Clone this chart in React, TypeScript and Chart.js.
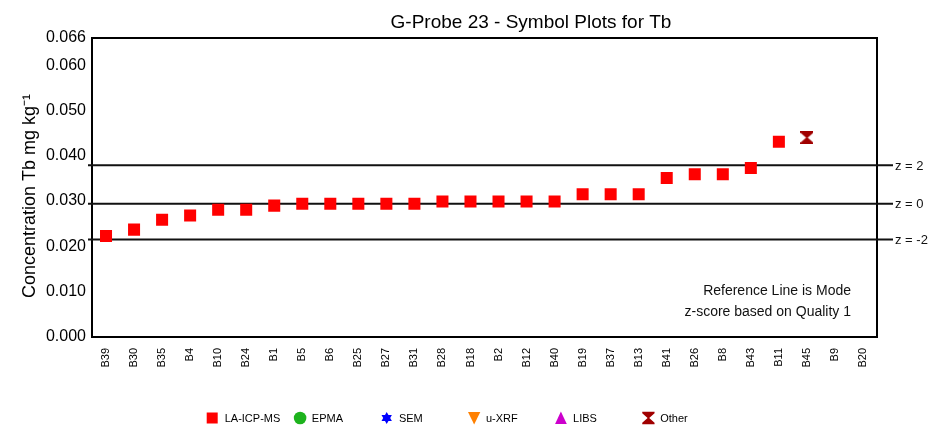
import React, { useEffect, useRef } from 'react';
import { Chart, registerables } from 'chart.js';

Chart.register(...registerables);

const CATEGORIES = ['B39', 'B30', 'B35', 'B4', 'B10', 'B24', 'B1', 'B5', 'B6', 'B25', 'B27', 'B31', 'B28', 'B18', 'B2', 'B12', 'B40', 'B19', 'B37', 'B13', 'B41', 'B26', 'B8', 'B43', 'B11', 'B45', 'B9', 'B20'];
const LA_ICP_MS = [0.0223, 0.0237, 0.0259, 0.0268, 0.0281, 0.0281, 0.029, 0.0294, 0.0294, 0.0294, 0.0294, 0.0294, 0.0299, 0.0299, 0.0299, 0.0299, 0.0299, 0.0315, 0.0315, 0.0315, 0.0351, 0.0359, 0.0359, 0.0373, 0.0431, null, null, null];
const OTHER = [null, null, null, null, null, null, null, null, null, null, null, null, null, null, null, null, null, null, null, null, null, null, null, null, null, 0.044, null, null];
const EMPTY: (number | null)[] = [];
const Y_TICKS = [0, 0.01, 0.02, 0.03, 0.04, 0.05, 0.06, 0.066];
const Z_VALUES = [0.0379, 0.0294, 0.0215];
const Z_LABELS = ['z = 2', 'z = 0', 'z = -2'];
const SERIES_NAMES = ['LA-ICP-MS', 'EPMA', 'SEM', 'u-XRF', 'LIBS', 'Other'];
const TITLE = 'G-Probe 23 - Symbol Plots for Tb';
const Y_TITLE = 'Concentration Tb mg kg\u207B\u00B9';
const NOTES = ['Reference Line is Mode', 'z-score based on Quality 1'];

const FONT = '"Liberation Sans", Arial, Helvetica, sans-serif';
const COLORS = ['#ff0000', '#1db31d', '#0000ff', '#ff8000', '#cc00cc', '#a00000'];

function drawHourglass(ctx: CanvasRenderingContext2D, cx: number, cy: number, s: number, color: string) {
  const h = s / 2;
  ctx.save();
  ctx.fillStyle = color;
  ctx.beginPath();
  ctx.moveTo(cx - h, cy - h);
  ctx.lineTo(cx + h, cy - h);
  ctx.lineTo(cx + h, cy - h + 1.5);
  ctx.lineTo(cx + 0.8, cy);
  ctx.lineTo(cx + h, cy + h - 1.5);
  ctx.lineTo(cx + h, cy + h);
  ctx.lineTo(cx - h, cy + h);
  ctx.lineTo(cx - h, cy + h - 1.5);
  ctx.lineTo(cx - 0.8, cy);
  ctx.lineTo(cx - h, cy - h + 1.5);
  ctx.closePath();
  ctx.fill();
  ctx.restore();
}

function makeHourglassCanvas(): HTMLCanvasElement {
  const c = document.createElement('canvas');
  c.width = 13;
  c.height = 13;
  const ctx = c.getContext('2d')!;
  drawHourglass(ctx, 6.5, 6.5, 13, COLORS[5]);
  return c;
}

function drawMarker(ctx: CanvasRenderingContext2D, i: number, left: number, cy: number) {
  const color = COLORS[i];
  ctx.save();
  ctx.fillStyle = color;
  ctx.beginPath();
  if (i === 0) {
    ctx.rect(left, cy - 5.5, 11, 11);
    ctx.fill();
  } else if (i === 1) {
    ctx.arc(left + 6.3, cy, 6.3, 0, Math.PI * 2);
    ctx.fill();
  } else if (i === 2) {
    const cx = left + 5.8;
    const r = 6;
    ctx.beginPath();
    for (let k = 0; k < 3; k++) {
      const a = -Math.PI / 2 + (k * 2 * Math.PI) / 3;
      const x = cx + r * Math.cos(a);
      const y = cy + r * Math.sin(a);
      if (k === 0) ctx.moveTo(x, y); else ctx.lineTo(x, y);
    }
    ctx.closePath();
    ctx.fill();
    ctx.beginPath();
    for (let k = 0; k < 3; k++) {
      const a = Math.PI / 2 + (k * 2 * Math.PI) / 3;
      const x = cx + r * Math.cos(a);
      const y = cy + r * Math.sin(a);
      if (k === 0) ctx.moveTo(x, y); else ctx.lineTo(x, y);
    }
    ctx.closePath();
    ctx.fill();
  } else if (i === 3) {
    ctx.moveTo(left, cy - 6);
    ctx.lineTo(left + 12.3, cy - 6);
    ctx.lineTo(left + 6.15, cy + 6.5);
    ctx.closePath();
    ctx.fill();
  } else if (i === 4) {
    ctx.moveTo(left + 5.8, cy - 6.5);
    ctx.lineTo(left + 11.7, cy + 6);
    ctx.lineTo(left, cy + 6);
    ctx.closePath();
    ctx.fill();
  } else {
    drawHourglass(ctx, left + 6.2, cy, 12.3, color);
  }
  ctx.restore();
}

const decorPlugin = {
  id: 'decor',
  beforeDatasetsDraw(chart: any) {
    const { ctx, chartArea } = chart;
    const y = chart.scales.y;
    ctx.save();
    // frame
    ctx.strokeStyle = '#000';
    ctx.lineWidth = 2;
    ctx.strokeRect(chartArea.left, chartArea.top, chartArea.right - chartArea.left, chartArea.bottom - chartArea.top);
    // z lines
    ctx.lineWidth = 2;
    ctx.strokeStyle = '#111';
    ctx.font = `13px ${FONT}`;
    ctx.fillStyle = '#111';
    ctx.textAlign = 'left';
    ctx.textBaseline = 'middle';
    Z_VALUES.forEach((v, i) => {
      const py = y.getPixelForValue(v);
      ctx.beginPath();
      ctx.moveTo(chartArea.left - 4, py);
      ctx.lineTo(chartArea.right + 16, py);
      ctx.stroke();
      ctx.fillText(Z_LABELS[i], chartArea.right + 18, py + 1);
    });
    ctx.restore();
  },
  afterDraw(chart: any) {
    const { ctx, chartArea } = chart;
    ctx.save();
    // title
    ctx.fillStyle = '#000';
    ctx.font = `19px ${FONT}`;
    ctx.textAlign = 'center';
    ctx.textBaseline = 'alphabetic';
    ctx.fillText(TITLE, 531, 28);
    // y title
    ctx.save();
    ctx.translate(35, 196);
    ctx.rotate(-Math.PI / 2);
    ctx.font = `18px ${FONT}`;
    ctx.textAlign = 'center';
    ctx.textBaseline = 'alphabetic';
    ctx.fillStyle = '#000';
    ctx.fillText(Y_TITLE, 0, 0);
    ctx.restore();
    // notes
    ctx.font = `14px ${FONT}`;
    ctx.fillStyle = '#111';
    ctx.textAlign = 'right';
    ctx.textBaseline = 'middle';
    ctx.fillText(NOTES[0], chartArea.right - 26, 291);
    ctx.fillText(NOTES[1], chartArea.right - 26, 312);
    // legend
    const datasets = chart.data.datasets;
    ctx.font = `11px ${FONT}`;
    ctx.fillStyle = '#000';
    ctx.textAlign = 'left';
    ctx.textBaseline = 'middle';
    datasets.forEach((ds: any, i: number) => {
      const left = 206.7 + i * 87.1;
      drawMarker(ctx, i, left, 418);
      ctx.fillStyle = '#000';
      ctx.fillText(ds.label, left + 18, 418.5);
    });
    ctx.restore();
  },
};

export default function App() {
  const ref = useRef<HTMLCanvasElement | null>(null);

  useEffect(() => {
    if (!ref.current) return;
    Chart.defaults.font.family = FONT;
    const hourglass = makeHourglassCanvas();
    const seriesData = [LA_ICP_MS, EMPTY, EMPTY, EMPTY, EMPTY, OTHER];
    const styles: any[] = ['rect', 'circle', 'star', 'triangle', 'triangle', hourglass];
    const chart = new Chart(ref.current, {
      type: 'line',
      data: {
        labels: CATEGORIES,
        datasets: SERIES_NAMES.map((name, i) => ({
          label: name,
          data: seriesData[i],
          showLine: false,
          pointStyle: styles[i],
          pointRadius: i === 0 ? 8.5 : 7,
          pointBackgroundColor: COLORS[i],
          pointBorderColor: COLORS[i],
          pointBorderWidth: 0,
          backgroundColor: COLORS[i],
          borderColor: COLORS[i],
        })),
      },
      options: {
        animation: false,
        responsive: true,
        maintainAspectRatio: false,
        events: [],
        layout: { padding: { left: 0, right: 53, top: 38, bottom: 0 } },
        plugins: {
          legend: { display: false },
          title: { display: false },
          tooltip: { enabled: false },
        },
        scales: {
          x: {
            type: 'category',
            offset: true,
            grid: { display: false, drawTicks: false },
            border: { display: false },
            ticks: {
              autoSkip: false,
              minRotation: 90,
              maxRotation: 90,
              padding: 11,
              color: '#000',
              font: { size: 11 },
            },
            afterFit: (scale: any) => {
              scale.height = 91;
            },
          },
          y: {
            type: 'linear',
            min: 0,
            max: 0.066,
            grid: { display: false, drawTicks: false },
            border: { display: false },
            afterBuildTicks: (scale: any) => {
              scale.ticks = Y_TICKS.map((v) => ({ value: v }));
            },
            ticks: {
              padding: 6,
              color: '#000',
              font: { size: 16 },
              callback: (v: any) => Number(v).toFixed(3),
            },
            afterFit: (scale: any) => {
              scale.width = 92;
            },
          },
        },
      },
      plugins: [decorPlugin],
    });
    return () => chart.destroy();
  }, []);

  return (
    <div style={{ position: 'absolute', left: 0, top: 0, width: 930, height: 428, background: '#fff' }}>
      <canvas ref={ref} />
    </div>
  );
}
